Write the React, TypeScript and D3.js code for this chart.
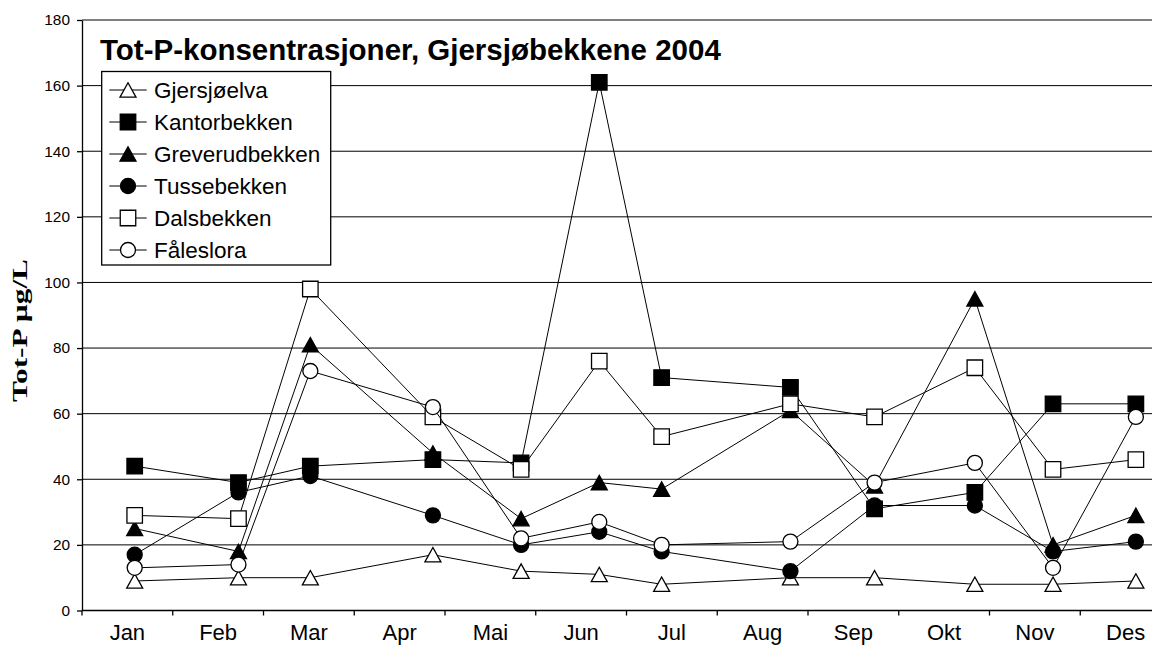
import React, { useEffect, useRef } from "react";
import * as d3 from "d3";

// sampling dates and monthly Tot-P values (µg/L)
const months = ["Jan", "Feb", "Mar", "Apr", "Mai", "Jun", "Jul", "Aug", "Sep", "Okt", "Nov", "Des"];
const sampleDates = [
  "2004-01-19", "2004-02-22", "2004-03-17", "2004-04-27", "2004-05-27", "2004-06-22",
  "2004-07-13", "2004-08-26", "2004-09-23", "2004-10-27", "2004-11-22", "2004-12-20",
];
const gjersjoelva = [9, 10, 10, 17, 12, 11, 8, 10, 10, 8, 8, 9];
const kantorbekken = [44, 39, 44, 46, 45, 161, 71, 68, 31, 36, 63, 63];
const greverudbekken = [25, 18, 81, 48, 28, 39, 37, 61, 38, 95, 20, 29];
const tussebekken = [17, 36, 41, 29, 20, 24, 18, 12, 32, 32, 18, 21];
const dalsbekken = [29, 28, 98, 59, 43, 76, 53, 63, 59, 74, 43, 46];
const faleslora = [13, 14, 73, 62, 22, 27, 20, 21, 39, 45, 13, 59];
const yTicks = [0, 20, 40, 60, 80, 100, 120, 140, 160, 180];

const series = [
  { name: "Gjersjøelva", values: gjersjoelva, shape: "triangle", filled: false },
  { name: "Kantorbekken", values: kantorbekken, shape: "square", filled: true },
  { name: "Greverudbekken", values: greverudbekken, shape: "triangle", filled: true },
  { name: "Tussebekken", values: tussebekken, shape: "circle", filled: true },
  { name: "Dalsbekken", values: dalsbekken, shape: "square", filled: false },
  { name: "Fåleslora", values: faleslora, shape: "circle", filled: false },
];

// triangle centred on its bounding box, like Excel's marker
const triangleType = {
  draw(ctx, size) {
    const w = Math.sqrt(size);
    const h = w * 0.9;
    ctx.moveTo(0, -h / 2);
    ctx.lineTo(w / 2, h / 2);
    ctx.lineTo(-w / 2, h / 2);
    ctx.closePath();
  },
};

// fractional month position of a date (month index + share of month passed)
function monthPos(s: string) {
  const d = new Date(s + "T00:00:00");
  const m = d.getMonth();
  const days = new Date(d.getFullYear(), m + 1, 0).getDate();
  return m + (d.getDate() - 1) / days;
}

const App = () => {
  const ref = useRef<SVGSVGElement>(null);

  function drawChart() {
    const svg = d3.select(ref.current);
    svg.selectAll("*").remove();
    const width = 1152;
    const height = 646;
    const left = 82;
    const top = 20;
    const bottom = 610.5;
    const monthWidth = 90.75;

    const x = d3.scaleLinear().domain([0, 12]).range([left, left + 12 * monthWidth]);
    const y = d3.scaleLinear().domain([0, 180]).range([bottom, top]);

    svg.attr("width", width).attr("height", height);
    svg.append("rect").attr("width", width).attr("height", height).attr("fill", "#fff");

    // gridlines
    svg
      .append("g")
      .selectAll("line")
      .data(yTicks.filter((d) => d > 0))
      .join("line")
      .attr("x1", left)
      .attr("x2", width)
      .attr("y1", (d) => y(d))
      .attr("y2", (d) => y(d))
      .attr("stroke", "#000")
      .attr("stroke-width", 1);

    // y axis
    const yAxis = svg
      .append("g")
      .attr("transform", `translate(${left},0)`)
      .call(d3.axisLeft(y).tickValues(yTicks).tickSize(5).tickPadding(7).tickSizeOuter(0));
    yAxis.select(".domain").attr("stroke", "#000").attr("stroke-width", 1.3);
    yAxis.selectAll(".tick line").attr("stroke", "#000").attr("stroke-width", 1.3);
    yAxis
      .selectAll(".tick text")
      .attr("font-family", "'Liberation Sans', Arial, sans-serif")
      .attr("font-size", 15.4)
      .attr("fill", "#000");

    // x axis: month boundaries with centred month names
    const xg = svg.append("g").attr("transform", `translate(0,${bottom})`);
    xg.append("line")
      .attr("x1", left)
      .attr("x2", width)
      .attr("stroke", "#000")
      .attr("stroke-width", 1.3);
    xg.selectAll(".tk")
      .data(d3.range(0, 12))
      .join("line")
      .attr("class", "tk")
      .attr("x1", (d) => x(d))
      .attr("x2", (d) => x(d))
      .attr("y1", 0)
      .attr("y2", 5)
      .attr("stroke", "#000")
      .attr("stroke-width", 1.3);
    xg.selectAll("text")
      .data(months)
      .join("text")
      .attr("x", (d, i) => x(i + 0.5))
      .attr("y", 29)
      .attr("text-anchor", "middle")
      .attr("font-family", "'Liberation Sans', Arial, sans-serif")
      .attr("font-size", 22)
      .text((d) => d);

    // y axis title
    svg
      .append("text")
      .attr("transform", "translate(27,330.5) rotate(-90)")
      .attr("text-anchor", "middle")
      .attr("font-family", "'Liberation Serif', 'Times New Roman', serif")
      .attr("font-weight", "bold")
      .attr("font-size", 22)
      .attr("textLength", 143)
      .attr("lengthAdjust", "spacingAndGlyphs")
      .text("Tot-P µg/L");

    const symbolFor = (shape: string) => {
      if (shape === "square") return d3.symbol(d3.symbolSquare, 240)();
      if (shape === "circle") return d3.symbol(d3.symbolCircle, 177)();
      return d3.symbol(triangleType as any, 256)();
    };

    const xs = sampleDates.map(monthPos);
    const line = d3
      .line<number>()
      .x((d, i) => x(xs[i]))
      .y((d) => y(d));

    series.forEach((s) => {
      const g = svg.append("g");
      g.append("path")
        .attr("d", line(s.values))
        .attr("fill", "none")
        .attr("stroke", "#000")
        .attr("stroke-width", 1);
      g.selectAll("path.mk")
        .data(s.values)
        .join("path")
        .attr("class", "mk")
        .attr("transform", (d, i) => `translate(${x(xs[i])},${y(d)})`)
        .attr("d", symbolFor(s.shape))
        .attr("fill", s.filled ? "#000" : "#fff")
        .attr("stroke", "#000")
        .attr("stroke-width", 1.3);
    });

    // chart title
    svg
      .append("text")
      .attr("x", 100)
      .attr("y", 60)
      .attr("font-family", "'Liberation Sans', Arial, sans-serif")
      .attr("font-weight", "bold")
      .attr("font-size", 29.5)
      .text("Tot-P-konsentrasjoner, Gjersjøbekkene 2004");

    // legend
    const lg = svg.append("g");
    lg.append("rect")
      .attr("x", 101.7)
      .attr("y", 71.5)
      .attr("width", 229)
      .attr("height", 193.5)
      .attr("fill", "#fff")
      .attr("stroke", "#000")
      .attr("stroke-width", 1.3);
    const rows = lg
      .selectAll("g.row")
      .data(series)
      .join("g")
      .attr("class", "row")
      .attr("transform", (d, i) => `translate(0,${90 + i * 32})`);
    rows
      .append("line")
      .attr("x1", 109.3)
      .attr("x2", 146.7)
      .attr("stroke", "#000")
      .attr("stroke-width", 1);
    rows
      .append("path")
      .attr("transform", "translate(128,0)")
      .attr("d", (d) => symbolFor(d.shape))
      .attr("fill", (d) => (d.filled ? "#000" : "#fff"))
      .attr("stroke", "#000")
      .attr("stroke-width", 1.3);
    rows
      .append("text")
      .attr("x", 154)
      .attr("y", 8)
      .attr("font-family", "'Liberation Sans', Arial, sans-serif")
      .attr("font-size", 22.5)
      .text((d) => d.name);
  }

  useEffect(() => {
    drawChart();
  }, []);

  return <svg ref={ref} style={{ position: "absolute", left: 0, top: 0, display: "block" }} />;
};

export default App;
